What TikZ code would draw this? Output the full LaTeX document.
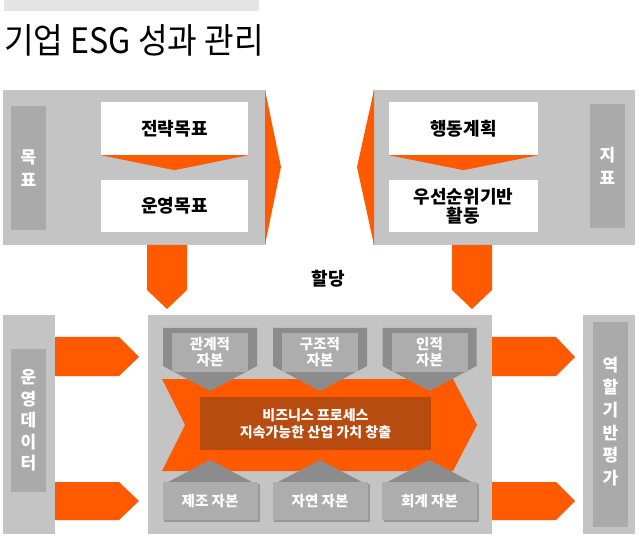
\documentclass[tikz,border=0pt]{standalone}
\usepackage{fontspec}
\usepackage{graphicx}
\setmainfont{Noto Sans CJK KR}
\definecolor{panelgrey}{HTML}{C4C4C4}
\definecolor{bargrey}{HTML}{AAAAAA}
\definecolor{capdark}{HTML}{8C8C8C}
\definecolor{caplight}{HTML}{ADADAD}
\definecolor{capshadow}{HTML}{999999}
\definecolor{orng}{HTML}{FF5A00}
\definecolor{brwn}{HTML}{B84C10}
\definecolor{titlebar}{HTML}{E4E4E4}
\begin{document}
\begin{tikzpicture}[x=1pt,y=-1pt,
  whitebox/.style={fill=white, draw=none, inner sep=0pt, minimum width=147pt, minimum height=53pt, align=center, font=\fontsize{18}{19}\selectfont\bfseries},
  labelbar/.style={fill=bargrey, inner sep=0pt, minimum width=35pt, align=center, text=white, font=\fontsize{17}{23}\selectfont\bfseries},
  capbox/.style={fill=caplight, inner sep=0pt, minimum width=76pt, minimum height=39pt, align=center, text=white, font=\fontsize{14.5}{16}\selectfont\bfseries},
  botcap/.style={fill=caplight, inner sep=0pt, minimum width=95pt, minimum height=38pt, align=center, text=white, font=\fontsize{14.5}{16}\selectfont\bfseries},
  arrowfill/.style={fill=orng},
  panelfill/.style={fill=panelgrey}]
\useasboundingbox (0,0) rectangle (640,553);
\fill[white] (0,0) rectangle (640,553);
% title
\fill[titlebar] (4,0) rectangle (259,11);
\node[anchor=base west, inner sep=0pt, font=\fontsize{35}{38}\selectfont] (title) at (4,54) {\scalebox{0.92}[1]{기업 ESG 성과 관리}};
% top left panel
\fill[panelfill] (3,90) rectangle (266,245);
\fill[arrowfill] (265,90) -- (281,167) -- (265,245) -- cycle;
\node[labelbar, minimum height=124pt] (mokpyo) at (28.5,168) {목\\표};
\node[whitebox] (sg) at (174.5,128.5) {전략목표};
\node[whitebox, minimum height=52pt] (og) at (174.5,206) {운영목표};
\fill[arrowfill] (sg.south west) -- (sg.south east) -- ([yshift=-15pt]sg.south) -- cycle;
% top right panel
\fill[panelfill] (373,90) rectangle (635,245);
\fill[arrowfill] (374,90) -- (357,167) -- (374,245) -- cycle;
\node[labelbar, minimum height=124pt] (jipyo) at (607.5,166) {지\\표};
\node[whitebox, minimum width=149pt] (plan) at (463.5,128.5) {행동계획};
\node[whitebox, minimum width=149pt, minimum height=52pt] (prio) at (463.5,206) {우선순위기반\\활동};
\fill[arrowfill] (plan.south west) -- (plan.south east) -- ([yshift=-15pt]plan.south) -- cycle;
% down arrows
\fill[arrowfill] (147,245) -- (187,245) -- (187,290) -- (167,309) -- (147,290) -- cycle;
\fill[arrowfill] (452,245) -- (492,245) -- (492,290) -- (472,309) -- (452,290) -- cycle;
\node[inner sep=0pt, font=\fontsize{18}{19}\selectfont\bfseries] (haldang) at (328,279) {할당};
% bottom panels
\fill[panelfill] (3,315) rectangle (55,534);
\node[labelbar, minimum height=143pt, font=\fontsize{17}{21.5}\selectfont\bfseries] (data) at (28.5,420.5) {운\\영\\데\\이\\터};
\fill[panelfill] (583,315) rectangle (635,534);
\fill[bargrey] (593,322) rectangle (628,527);
\node[inner sep=0pt, align=center, text=white, font=\fontsize{17}{22.6}\selectfont\bfseries] (eval) at (610.5,421.5) {역\\할\\기\\반\\평\\가};
\fill[panelfill] (148,315) rectangle (492,534);
% side arrows
\fill[arrowfill] (55,337) -- (119,337) -- (139,357) -- (119,376) -- (55,376) -- cycle;
\fill[arrowfill] (55,482) -- (119,482) -- (139,501) -- (119,520) -- (55,520) -- cycle;
\fill[arrowfill] (492,337) -- (556,337) -- (575,357) -- (556,376) -- (492,376) -- cycle;
\fill[arrowfill] (492,482) -- (556,482) -- (575,501) -- (556,520) -- (492,520) -- cycle;
% central process
\fill[arrowfill] (162,379) -- (453,379) -- (477,425) -- (453,471) -- (162,471) -- (185,425) -- cycle;
\node[fill=brwn, inner sep=0pt, minimum width=231pt, minimum height=53pt, align=center, text=white, font=\fontsize{14}{17}\selectfont\bfseries] (proc) at (315.5,423.5) {비즈니스 프로세스\\지속가능한 산업 가치 창출};
% top capitals
\foreach \cx/\nm/\txt in {210/rel/{관계적\\자본}, 320/str/{구조적\\자본}, 429.5/hum/{인적\\자본}} {
  \fill[capdark] (\cx-47,328) -- (\cx+47,328) -- (\cx+47,366) -- (\cx,391) -- (\cx-47,366) -- cycle;
  \node[capbox] (\nm) at (\cx,352.5) {\txt};
}
% bottom capitals
\foreach \cx/\nm/\txt in {210/man/{제조 자본}, 320/nat/{자연 자본}, 429.5/acc/{회계 자본}} {
  \fill[capdark] (\cx,460) -- (\cx+42,482) -- (\cx-42,482) -- cycle;
  \fill[capshadow] (\cx-46,484) rectangle (\cx+49.5,522);
  \node[botcap] (\nm) at (\cx,501) {\txt};
}
\end{tikzpicture}
\end{document}
